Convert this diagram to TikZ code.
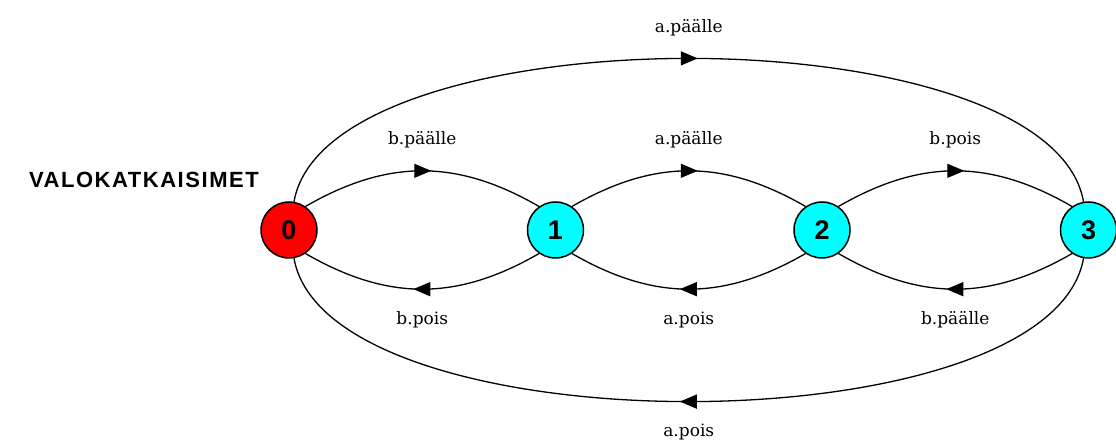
\documentclass[tikz,border=0pt]{standalone}
\usepackage{fontspec}
\setmainfont{DejaVu Serif}
\newfontfamily\digitfont{Liberation Sans}
\newfontfamily\titlefont{Liberation Sans}[LetterSpace=7]
\usetikzlibrary{arrows.meta, positioning, decorations.markings}
\definecolor{statecyan}{RGB}{0,255,255}
\definecolor{statered}{RGB}{255,0,0}

\begin{document}
\begin{tikzpicture}[
  x=1pt, y=1pt,
  node distance = 209pt,
  font = \fontsize{17}{20}\selectfont,
  state/.style = {circle, draw, line width=1.5pt, minimum size=56pt,
                  inner sep=0pt, fill=statecyan,
                  font=\digitfont\bfseries\fontsize{27}{30}\selectfont},
  initstate/.style = {state, fill=statered},
  trans/.style = {line width=1.3pt, postaction={decorate},
                  decoration={markings, mark=at position 0.5 with
                  {\arrow[xshift=9pt]{Triangle[length=17pt, width=14pt]}}}},
  lbl/.style = {inner sep=0pt},
  titletext/.style = {inner sep=0pt, font=\titlefont\bfseries\fontsize{22}{26}\selectfont},
]
\useasboundingbox (0,0) rectangle (1116,444);

\node[initstate] (s0) at (289,214) {0};
\node[state, right=of s0] (s1) {1};
\node[state, right=of s1] (s2) {2};
\node[state, right=of s2] (s3) {3};

\node[titletext, anchor=east] (title) at (259,264) {VALOKATKAISIMET};

% upper transitions
\draw[trans] (s0.55) to[out=30, in=150, distance=95pt]
  node[lbl, above=22pt] {b.päälle} (s1.125);
\draw[trans] (s1.55) to[out=30, in=150, distance=95pt]
  node[lbl, above=22pt] {a.päälle} (s2.125);
\draw[trans] (s2.55) to[out=30, in=150, distance=95pt]
  node[lbl, above=22pt] {b.pois} (s3.125);
\draw[trans] (s0.80) to[out=80, in=100, distance=194pt]
  node[lbl, above=22pt] {a.päälle} (s3.100);

% lower transitions
\draw[trans] (s1.-125) to[out=-150, in=-30, distance=95pt]
  node[lbl, below=22pt] {b.pois} (s0.-55);
\draw[trans] (s2.-125) to[out=-150, in=-30, distance=95pt]
  node[lbl, below=22pt] {a.pois} (s1.-55);
\draw[trans] (s3.-125) to[out=-150, in=-30, distance=95pt]
  node[lbl, below=22pt] {b.päälle} (s2.-55);
\draw[trans] (s3.-100) to[out=-100, in=-80, distance=194pt]
  node[lbl, below=22pt] {a.pois} (s0.-80);
\end{tikzpicture}
\end{document}
